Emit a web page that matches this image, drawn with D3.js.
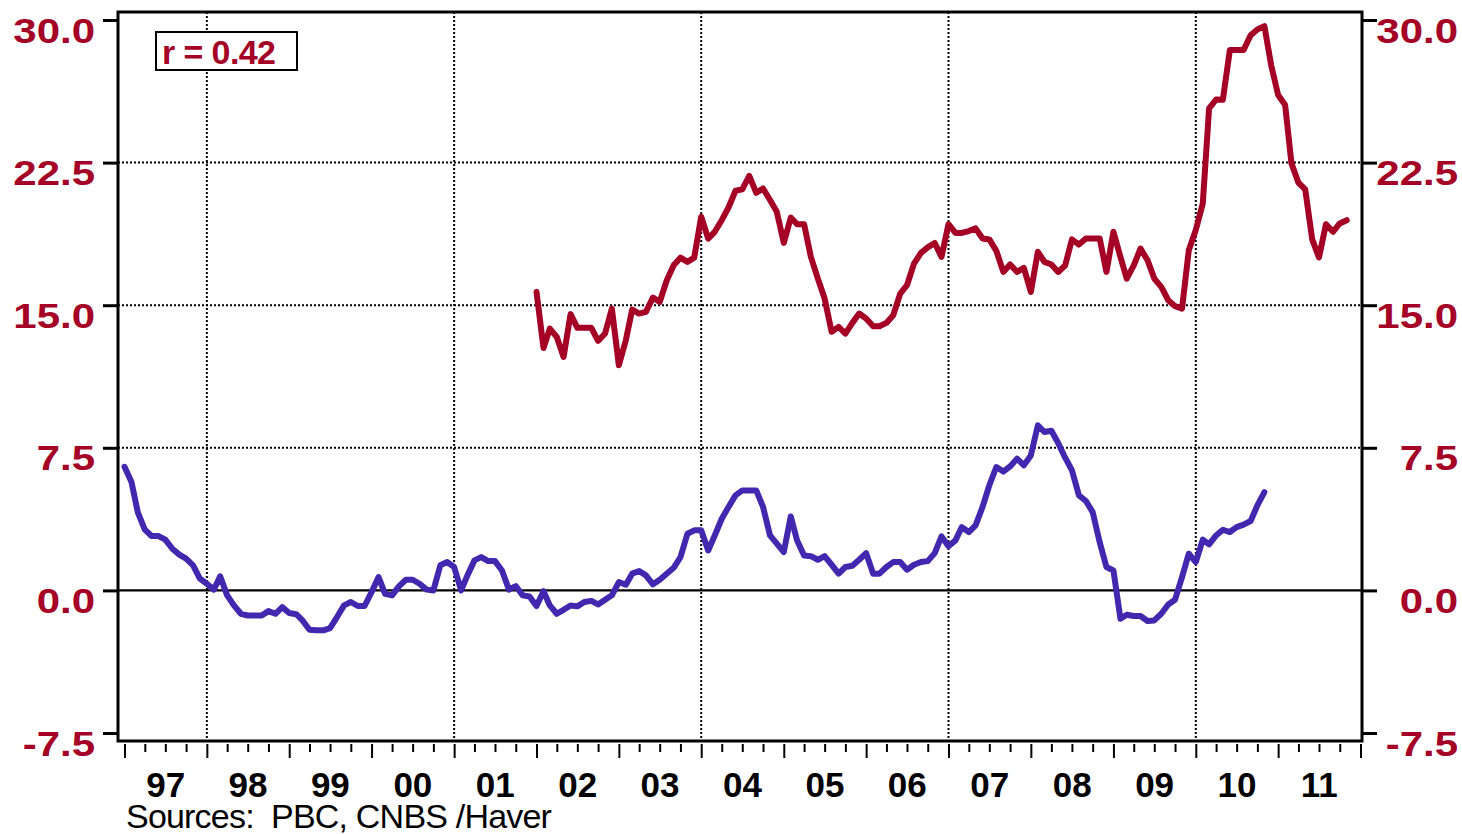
<!DOCTYPE html>
<html>
<head>
<meta charset="utf-8">
<script src="https://cdn.jsdelivr.net/npm/d3@7"></script>
<style>
  html, body { margin: 0; padding: 0; background: #fff; }
  svg { display: block; }
  text { font-family: "Liberation Sans", Arial, sans-serif; }
</style>
</head>
<body>
<svg id="chart" width="1462" height="834"></svg>
<script>
// Monthly series, first month given by the start arrays
const blueStart = [1997, 1];
const blueValues = [
  6.5, 5.7, 4.1, 3.2, 2.86, 2.86, 2.67, 2.19, 1.88, 1.67, 1.32, 0.62,
  0.35, 0.04, 0.74, -0.26, -0.79, -1.23, -1.32, -1.32, -1.32, -1.09, -1.23, -0.88,
  -1.19, -1.25, -1.58, -2.07, -2.1, -2.1, -1.98, -1.4, -0.79, -0.61, -0.82, -0.82,
  -0.09, 0.7, -0.18, -0.26, 0.21, 0.56, 0.56, 0.35, 0.04, 0.0, 1.32, 1.49,
  1.23, 0.0, 0.79, 1.58, 1.75, 1.54, 1.54, 1.05, 0.04, 0.23, -0.26, -0.32,
  -0.82, -0.04, -0.79, -1.23, -1.02, -0.79, -0.84, -0.61, -0.55, -0.74, -0.49, -0.26,
  0.44, 0.3, 0.88, 1.02, 0.79, 0.32, 0.56, 0.88, 1.19, 1.75, 2.98, 3.16,
  3.16, 2.1, 2.89, 3.77, 4.39, 5.0, 5.26, 5.26, 5.26, 4.39, 2.89, 2.46,
  2.02, 3.89, 2.63, 1.84, 1.8, 1.61, 1.8, 1.35, 0.88, 1.23, 1.3, 1.61,
  1.96, 0.88, 0.88, 1.23, 1.49, 1.49, 1.09, 1.35, 1.49, 1.54, 1.96, 2.84,
  2.32, 2.63, 3.33, 3.07, 3.42, 4.39, 5.53, 6.49, 6.25, 6.52, 6.93, 6.58,
  7.1, 8.68, 8.33, 8.4, 7.75, 6.98, 6.32, 5.0, 4.7, 4.12, 2.54, 1.23,
  1.05, -1.49, -1.28, -1.35, -1.35, -1.61, -1.58, -1.23, -0.74, -0.49, 0.7, 1.93,
  1.49, 2.67, 2.42, 2.89, 3.19, 3.07, 3.33, 3.46, 3.65, 4.47, 5.17
];

const redStart = [2002, 1];
const redValues = [
  15.7, 12.75, 13.77, 13.33, 12.28, 14.53, 13.81, 13.81, 13.81, 13.12, 13.51, 14.82,
  11.84, 13.16, 14.77, 14.56, 14.65, 15.4, 15.17, 16.3, 17.1, 17.5, 17.28, 17.5,
  19.65, 18.5, 18.86, 19.47, 20.14, 21.02, 21.09, 21.8, 20.91, 21.14, 20.53, 19.91,
  18.28, 19.61, 19.26, 19.26, 17.54, 16.4, 15.35, 13.6, 13.86, 13.51, 14.07, 14.56,
  14.3, 13.89, 13.89, 14.07, 14.47, 15.61, 16.05, 17.19, 17.75, 18.04, 18.27, 17.54,
  19.26, 18.8, 18.8, 18.9, 19.04, 18.51, 18.46, 17.86, 16.75, 17.14, 16.75, 16.96,
  15.7, 17.81, 17.28, 17.14, 16.75, 17.09, 18.46, 18.19, 18.51, 18.51, 18.51, 16.75,
  18.86, 17.54, 16.4, 17.09, 17.98, 17.37, 16.4, 15.96, 15.26, 14.95, 14.82, 17.89,
  18.95, 20.35, 25.35, 25.82, 25.8, 28.42, 28.42, 28.42, 29.2, 29.5, 29.68, 27.63,
  26.05, 25.53, 22.46, 21.44, 21.09, 18.46, 17.51, 19.26, 18.86, 19.3, 19.47
];

const yTicks = [-7.5, 0, 7.5, 15, 22.5, 30];
const yGrid = [7.5, 15, 22.5];
const gridYears = [1998, 2001, 2004, 2007, 2010];
const yearLabels = ["97", "98", "99", "00", "01", "02", "03", "04", "05", "06", "07", "08", "09", "10", "11"];
const xDomainYears = [1997, 2012];
const corrLabel = "r = 0.42";
const sourceLabel = "Sources:  PBC, CNBS /Haver";

const RED = "#A50026";
const BLUE = "#4227AF";

const svg = d3.select("#chart");
const frame = { left: 118, right: 1362, top: 12, bottom: 741 };

const monthSeries = (start, values) =>
  values.map((v, i) => ({ date: new Date(start[0], start[1] - 1 + i, 1), value: v }));

const blue = monthSeries(blueStart, blueValues);
const red = monthSeries(redStart, redValues);

const x = d3.scaleTime()
  .domain([new Date(xDomainYears[0], 0, 1), new Date(xDomainYears[1], 0, 1)])
  .range([124.5, 1360.5]);

const y = d3.scaleLinear().domain([-7.5, 30]).range([733, 20]);

// dotted grid
const grid = svg.append("g");
grid.selectAll("line.h").data(yGrid).join("line")
  .attr("x1", frame.left).attr("x2", frame.right)
  .attr("y1", d => y(d)).attr("y2", d => y(d))
  .attr("stroke", "#000").attr("stroke-width", 2).attr("stroke-dasharray", "2,2");
grid.selectAll("line.v").data(gridYears).join("line")
  .attr("x1", d => x(new Date(d, 0, 1))).attr("x2", d => x(new Date(d, 0, 1)))
  .attr("y1", frame.top).attr("y2", frame.bottom)
  .attr("stroke", "#000").attr("stroke-width", 2).attr("stroke-dasharray", "2,2");
// zero line
grid.append("line")
  .attr("x1", frame.left).attr("x2", frame.right)
  .attr("y1", y(0)).attr("y2", y(0))
  .attr("stroke", "#000").attr("stroke-width", 2.2);

// series
const line = d3.line().x(d => x(d.date)).y(d => y(d.value));
svg.append("path").datum(blue)
  .attr("d", line).attr("fill", "none").attr("stroke", BLUE)
  .attr("stroke-width", 6).attr("stroke-linejoin", "round").attr("stroke-linecap", "round");
svg.append("path").datum(red)
  .attr("d", line).attr("fill", "none").attr("stroke", RED)
  .attr("stroke-width", 6).attr("stroke-linejoin", "round").attr("stroke-linecap", "round");

// frame
svg.append("rect")
  .attr("x", frame.left).attr("y", frame.top)
  .attr("width", frame.right - frame.left).attr("height", frame.bottom - frame.top)
  .attr("fill", "none").attr("stroke", "#000").attr("stroke-width", 3);

// y axes (plain hyphen for negatives)
const fmt = d => d3.format(".1f")(d).replace("\u2212", "-");
const leftAxis = svg.append("g")
  .attr("transform", `translate(${frame.left},0)`)
  .call(d3.axisLeft(y).tickValues(yTicks).tickSize(15).tickFormat(fmt));
const rightAxis = svg.append("g")
  .attr("transform", `translate(${frame.right},0)`)
  .call(d3.axisRight(y).tickValues(yTicks).tickSize(15).tickFormat(fmt));

[leftAxis, rightAxis].forEach(g => {
  g.select(".domain").remove();
  g.selectAll(".tick line").attr("stroke", "#000").attr("stroke-width", 3);
});
leftAxis.selectAll(".tick text")
  .attr("x", 0).attr("dy", null).attr("y", 0)
  .attr("text-anchor", "end")
  .attr("transform", `translate(-23,22) scale(1.2,1)`)
  .attr("fill", RED).attr("font-size", 35).attr("font-weight", "bold");
rightAxis.selectAll(".tick text")
  .attr("x", 0).attr("dy", null).attr("y", 0)
  .attr("text-anchor", "end")
  .attr("transform", `translate(${1458 - frame.right},22) scale(1.2,1)`)
  .attr("fill", RED).attr("font-size", 35).attr("font-weight", "bold");

// x axis: quarterly ticks, longer at year starts
const quarterTicks = d3.timeMonth.every(3).range(x.domain()[0], d3.timeDay.offset(x.domain()[1], 1));
const xAxis = svg.append("g")
  .attr("transform", `translate(0,${frame.bottom + 3})`)
  .call(d3.axisBottom(x).tickValues(quarterTicks).tickSize(14).tickFormat(""));
xAxis.select(".domain").remove();
xAxis.selectAll(".tick line")
  .attr("stroke", "#000").attr("stroke-width", 2)
  .attr("y2", d => d.getMonth() === 0 ? 14 : 8);

// year labels centred in each year
svg.append("g").selectAll("text").data(yearLabels).join("text")
  .attr("x", (d, i) => (x(new Date(xDomainYears[0] + i, 0, 1)) + x(new Date(xDomainYears[0] + i + 1, 0, 1))) / 2)
  .attr("y", 797)
  .attr("text-anchor", "middle")
  .attr("font-size", 35).attr("font-weight", "bold").attr("fill", "#000")
  .text(d => d);

// correlation box
const corr = svg.append("g");
corr.append("rect")
  .attr("x", 156).attr("y", 32).attr("width", 141).attr("height", 38)
  .attr("fill", "#fff").attr("stroke", "#000").attr("stroke-width", 2);
corr.append("text")
  .attr("x", 162).attr("y", 64)
  .attr("font-size", 34).attr("font-weight", "bold").attr("fill", RED)
  .attr("letter-spacing", -0.6)
  .text(corrLabel);

// source note
svg.append("text")
  .attr("x", 126).attr("y", 828)
  .attr("font-size", 34).attr("fill", "#000")
  .attr("letter-spacing", -0.8)
  .style("white-space", "pre")
  .text(sourceLabel);
</script>
</body>
</html>
